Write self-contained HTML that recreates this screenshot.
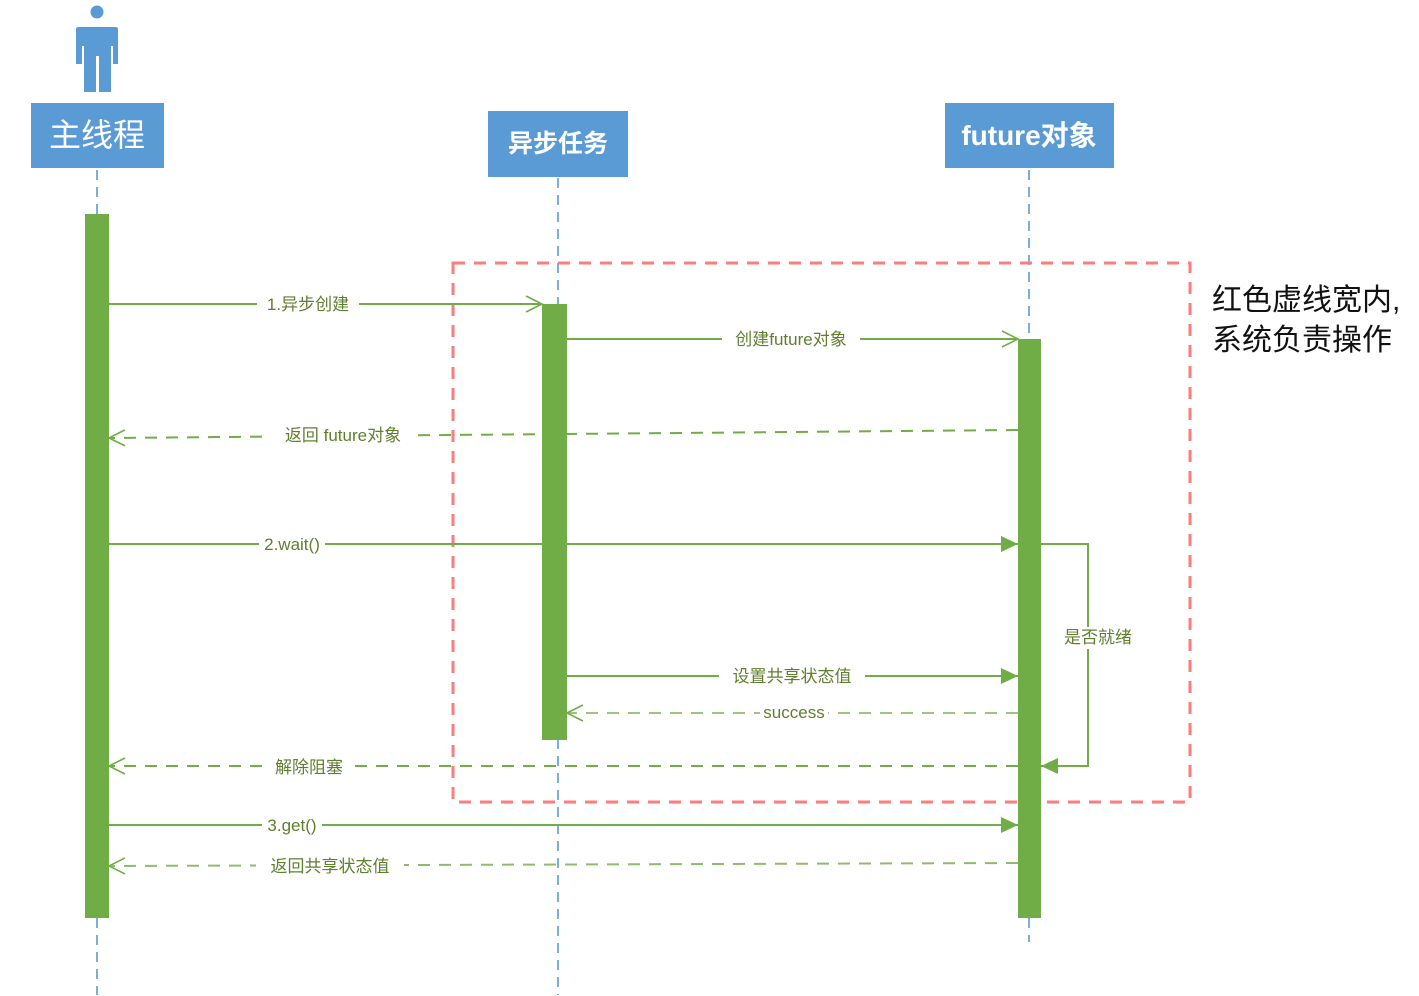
<!DOCTYPE html>
<html><head><meta charset="utf-8"><style>
html,body{margin:0;padding:0;background:#fff;}
svg{display:block;}
text{font-family:"Liberation Sans","Noto Sans CJK SC",sans-serif;}
.lb{font-size:17px;fill:#5f7f2f;}
</style></head><body>
<svg width="1419" height="996" viewBox="0 0 1419 996">
<defs>
<marker id="open" markerWidth="20" markerHeight="20" refX="18" refY="10" orient="auto" markerUnits="userSpaceOnUse">
<path d="M2,2 L18,10 L2,18" fill="none" stroke="#70ad47" stroke-width="1.6"/></marker>
<marker id="fill" markerWidth="20" markerHeight="20" refX="18" refY="9" orient="auto" markerUnits="userSpaceOnUse">
<path d="M1,1 L18,9 L1,17 Z" fill="#70ad47"/></marker>
</defs>
<!-- actor -->
<circle cx="97" cy="12" r="6.5" fill="#5b9bd5"/>
<path d="M76,29 Q76,27 79,27 L115,27 Q118,27 118,29 L118,64 L113,64 L113,46 L111,46 L111,92 L99,92 L99,56 L96,56 L96,92 L84,92 L84,46 L82,46 L82,64 L76,64 Z" fill="#5b9bd5"/>
<!-- lifelines -->
<g stroke="#5b9bd5" stroke-width="2" stroke-dasharray="10,7" opacity="0.8">
<line x1="97" y1="170" x2="97" y2="995"/>
<line x1="558" y1="178" x2="558" y2="995"/>
<line x1="1029" y1="170" x2="1029" y2="942"/>
</g>
<!-- boxes -->
<rect x="31" y="103" width="133" height="65" fill="#5b9bd5"/>
<text x="97" y="146" fill="#fff" font-size="32" text-anchor="middle">主线程</text>
<rect x="488" y="111" width="140" height="66" fill="#5b9bd5"/>
<text x="558" y="152" fill="#fff" font-size="25" font-weight="bold" text-anchor="middle">异步任务</text>
<rect x="945" y="103" width="169" height="65" fill="#5b9bd5"/>
<text x="1029" y="145" fill="#fff" font-size="28" font-weight="bold" text-anchor="middle">future对象</text>
<!-- red box -->
<rect x="453" y="263" width="737" height="539" fill="none" stroke="#ff7c7c" stroke-width="3" stroke-dasharray="12,9"/>
<text x="1212" y="310" font-size="30" fill="#111">红色虚线宽内,</text>
<text x="1212" y="350" font-size="30" fill="#111">系统负责操作</text>
<!-- activations -->
<rect x="85" y="214" width="24" height="704" fill="#70ad47"/>
<rect x="542" y="304" width="25" height="436" fill="#70ad47"/>
<rect x="1018" y="339" width="23" height="579" fill="#70ad47"/>
<!-- messages -->
<g stroke="#70ad47" stroke-width="2" fill="none">
<line x1="109" y1="304" x2="542" y2="304" marker-end="url(#open)"/>
<line x1="567" y1="339" x2="1018" y2="339" marker-end="url(#open)"/>
<line x1="1018" y1="430" x2="109" y2="438" stroke-dasharray="12,9" marker-end="url(#open)"/>
<line x1="109" y1="544" x2="1018" y2="544" marker-end="url(#fill)"/>
<path d="M1041,544 L1088,544 L1088,766 L1041,766" marker-end="url(#fill)"/>
<line x1="567" y1="676" x2="1018" y2="676" marker-end="url(#fill)"/>
<line x1="1018" y1="713" x2="567" y2="713" stroke-dasharray="12,9" stroke-opacity="0.7" marker-end="url(#open)"/>
<line x1="1018" y1="766" x2="109" y2="766" stroke-dasharray="12,9" marker-end="url(#open)"/>
<line x1="109" y1="825" x2="1018" y2="825" marker-end="url(#fill)"/>
<line x1="1018" y1="863" x2="109" y2="866" stroke-dasharray="12,9" stroke-opacity="0.8" marker-end="url(#open)"/>
</g>
<g class="lb" text-anchor="middle">
<rect x="257" y="294" width="102" height="20" fill="#fff"/><text x="308" y="310">1.异步创建</text>
<rect x="722" y="329" width="138" height="20" fill="#fff"/><text x="791" y="345">创建future对象</text>
<rect x="268" y="424" width="150" height="22" fill="#fff"/><text x="343" y="441">返回 future对象</text>
<rect x="259" y="534" width="66" height="20" fill="#fff"/><text x="292" y="550">2.wait()</text>
<rect x="1056" y="627" width="84" height="22" fill="#fff"/><text x="1098" y="643">是否就绪</text>
<rect x="719" y="666" width="146" height="20" fill="#fff"/><text x="792" y="682">设置共享状态值</text>
<rect x="760" y="703" width="68" height="20" fill="#fff"/><text x="794" y="718">success</text>
<rect x="266" y="756" width="86" height="22" fill="#fff"/><text x="309" y="773">解除阻塞</text>
<rect x="262" y="815" width="60" height="20" fill="#fff"/><text x="292" y="831">3.get()</text>
<rect x="256" y="855" width="148" height="22" fill="#fff"/><text x="330" y="872">返回共享状态值</text>
</g>
</svg>
</body></html>
